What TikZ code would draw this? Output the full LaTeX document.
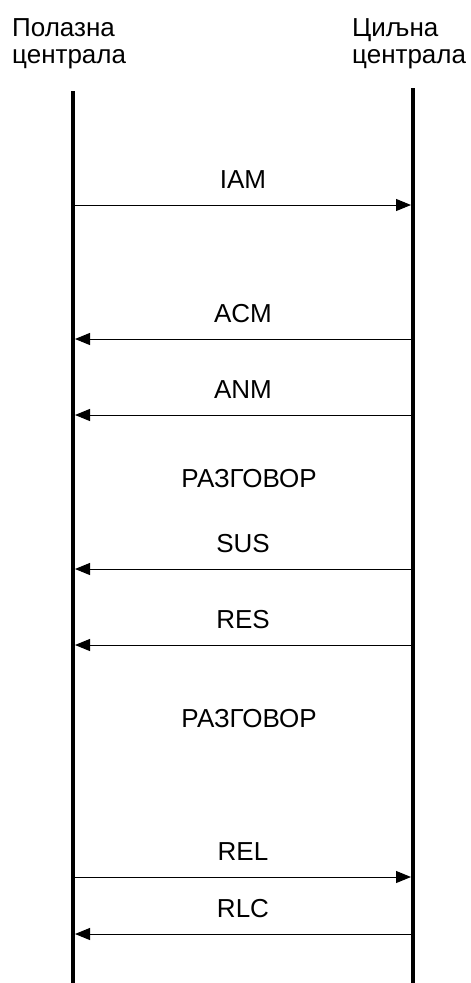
\documentclass[tikz,border=0pt]{standalone}
\usepackage{fontspec}
\setmainfont{Liberation Sans}
\usetikzlibrary{arrows.meta}
\begin{document}
\begin{tikzpicture}[x=1pt,y=-1pt,font=\fontsize{26}{27}\selectfont,
life/.style={line width=4pt},
msg/.style={line width=1pt,-{Triangle[length=15pt,width=12pt]},shorten <=2pt,shorten >=2pt}]
\useasboundingbox(0,0)rectangle(471,983);
\node[align=left,anchor=base west,inner sep=0](src)at(12,63){Полазна\\централа};
\node[align=left,anchor=base west,inner sep=0](dst)at(352,63){Циљна\\централа};
\coordinate(srcTop)at(73,91);\coordinate(srcBot)at(73,983);
\coordinate(dstTop)at(413,88);\coordinate(dstBot)at(413,983);
\draw[life](srcTop)--(srcBot);
\draw[life](dstTop)--(dstBot);
\foreach \y/\txt/\i in {205/IAM/1,877/REL/2}{
\coordinate(a\i)at(73,\y);\coordinate(b\i)at(413,\y);
\draw[msg](a\i)--(b\i)node[midway,anchor=base,yshift=17pt]{\txt};}
\foreach \y/\txt/\i in {339/ACM/3,415/ANM/4,569/SUS/5,645/RES/6,934/RLC/7}{
\coordinate(a\i)at(73,\y);\coordinate(b\i)at(413,\y);
\draw[msg](b\i)--(a\i)node[midway,anchor=base,yshift=17pt]{\txt};}
\node[anchor=base](talk1)at(249,487){РАЗГОВОР};
\node[anchor=base](talk2)at(249,727){РАЗГОВОР};
\end{tikzpicture}
\end{document}
